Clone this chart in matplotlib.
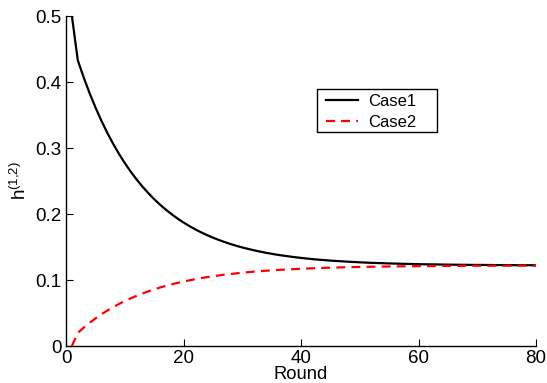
import matplotlib
matplotlib.use("Agg")
import matplotlib.pyplot as plt
import numpy as np
from matplotlib.patches import Rectangle

plt.rcParams["font.family"] = ["Liberation Sans", "DejaVu Sans"]
plt.rcParams["mathtext.default"] = "regular"

rounds = np.arange(1, 81)

case1 = [
    0.5000, 0.4330, 0.4071, 0.3834, 0.3617, 0.3417, 0.3234, 0.3067, 0.2913, 0.2772,
    0.2643, 0.2525, 0.2416, 0.2317, 0.2225, 0.2142, 0.2065, 0.1995, 0.1930, 0.1871,
    0.1817, 0.1767, 0.1722, 0.1680, 0.1642, 0.1607, 0.1575, 0.1545, 0.1518, 0.1493,
    0.1471, 0.1450, 0.1431, 0.1413, 0.1397, 0.1382, 0.1369, 0.1357, 0.1345, 0.1335,
    0.1325, 0.1316, 0.1308, 0.1301, 0.1294, 0.1288, 0.1283, 0.1277, 0.1273, 0.1268,
    0.1264, 0.1260, 0.1257, 0.1254, 0.1251, 0.1249, 0.1246, 0.1244, 0.1242, 0.1240,
    0.1238, 0.1237, 0.1236, 0.1234, 0.1233, 0.1232, 0.1231, 0.1230, 0.1229, 0.1228,
    0.1228, 0.1227, 0.1226, 0.1226, 0.1225, 0.1225, 0.1224, 0.1224, 0.1224, 0.1223,
]

case2 = [
    0.0000, 0.0200, 0.0278, 0.0350, 0.0417, 0.0478, 0.0535, 0.0588, 0.0636, 0.0681,
    0.0722, 0.0760, 0.0795, 0.0828, 0.0858, 0.0886, 0.0911, 0.0935, 0.0957, 0.0977,
    0.0995, 0.1013, 0.1029, 0.1043, 0.1057, 0.1069, 0.1081, 0.1091, 0.1101, 0.1110,
    0.1119, 0.1127, 0.1134, 0.1140, 0.1146, 0.1152, 0.1157, 0.1162, 0.1166, 0.1171,
    0.1174, 0.1178, 0.1181, 0.1184, 0.1187, 0.1189, 0.1192, 0.1194, 0.1196, 0.1198,
    0.1199, 0.1201, 0.1202, 0.1204, 0.1205, 0.1206, 0.1207, 0.1208, 0.1209, 0.1210,
    0.1211, 0.1211, 0.1212, 0.1213, 0.1213, 0.1214, 0.1214, 0.1215, 0.1215, 0.1216,
    0.1216, 0.1216, 0.1217, 0.1217, 0.1217, 0.1217, 0.1218, 0.1218, 0.1218, 0.1218,
]

x_ticks = [0, 20, 40, 60, 80]
y_ticks = [0, 0.1, 0.2, 0.3, 0.4, 0.5]
y_ticklabels = ["0", "0.1", "0.2", "0.3", "0.4", "0.5"]

fig = plt.figure(figsize=(5.47, 3.83), dpi=100)
ax = fig.add_axes([0.1207, 0.0966, 0.8593, 0.8616])

ax.plot(rounds, case1, color="black", linewidth=1.6, label="Case1")
ax.plot(rounds, case2, color="red", linewidth=1.6, linestyle=(0, (4, 2.8)), label="Case2")

ax.set_xlim(0, 80)
ax.set_ylim(0, 0.5)
ax.set_xticks(x_ticks)
ax.set_yticks(y_ticks)
ax.set_yticklabels(y_ticklabels)
ax.tick_params(direction="in", length=5, width=0.8, labelsize=13.5, pad=3)

ax.spines["top"].set_visible(False)
ax.spines["right"].set_visible(False)
for s in ("left", "bottom"):
    ax.spines[s].set_linewidth(1.0)

ax.set_xlabel("Round", fontsize=13.2, labelpad=-1)
ax.set_ylabel("h$^{(1{,}2)}$", fontsize=13.5, labelpad=4)

# MATLAB-style legend: box drawn separately so it keeps the wide right margin
ax.add_patch(Rectangle((0.534, 0.648), 0.255, 0.131, transform=ax.transAxes,
                       facecolor="white", edgecolor="black", linewidth=1.0, zorder=4))
leg = ax.legend(loc="upper left", bbox_to_anchor=(0.553, 0.764), borderaxespad=0,
                borderpad=0, fontsize=12, frameon=False, handlelength=1.9,
                labelspacing=0.38, handletextpad=0.65)
leg.set_zorder(5)

fig.savefig("out.png", dpi=100)
